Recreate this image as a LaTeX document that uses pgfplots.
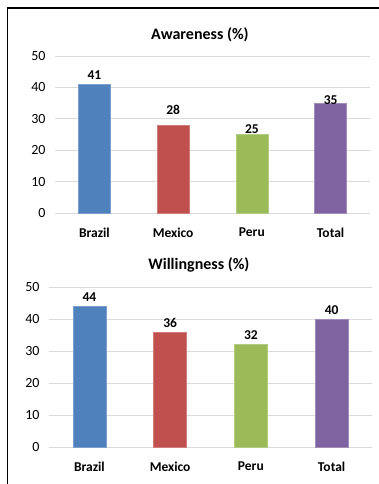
\documentclass[border=0pt]{standalone}
\usepackage{pgfplots}
\pgfplotsset{compat=1.18}
\usepackage{pgfplotstable}
\usepackage{fontspec}
\setmainfont{Carlito}
\definecolor{c0}{HTML}{4F81BD}
\definecolor{c1}{HTML}{C0504D}
\definecolor{c2}{HTML}{9BBB59}
\definecolor{c3}{HTML}{8064A2}
\definecolor{gridc}{HTML}{D9D9D9}

\pgfplotstableread{
x y dy c
0 41 0 0
1 28 6 1
2 25 -4 2
3 35 -6 3
}\awareness
\pgfplotstableread{
x y dy c
0 44 0 0
1 36 0 1
2 32 0 2
3 40 0 3
}\willing

\pgfplotsset{
  mychart/.style={
    scale only axis,
    anchor=south west,
    ymin=0, ymax=50,
    ytick={0,10,...,50},
    xmin=-0.5, xmax=3.5,
    xtick={0,1,2,3},
    xticklabels={Brazil,Mexico,Peru,Total},
    axis line style={draw=none},
    ymajorgrids,
    grid style={gridc, line width=0.8pt},
    major tick length=0pt,
    yticklabel style={font=\fontsize{14}{16}\selectfont, xshift=-6pt},
    xticklabel style={font=\fontsize{13.5}{16}\selectfont\bfseries, yshift=-11pt},
    /pgf/number format/assume math mode=true,
    title style={font=\fontsize{16}{18}\selectfont\bfseries, yshift=5pt},
    clip=false,
  },
}

\begin{document}
\begin{tikzpicture}
\path[use as bounding box] (0pt,0pt) rectangle (379pt,484pt);
\draw[line width=1.6pt, black] (7.5pt,0pt) -- (7.5pt,476pt) -- (379pt,476pt);

\begin{axis}[mychart, at={(55pt,271pt)}, width=315pt, height=157pt,
  title={Awareness (\%)}, title style={at={(0.46,1)}}]
\pgfplotsinvokeforeach{0,1,2,3}{
  \addplot[ybar, bar width=32pt, bar shift=0pt,
    fill=c#1, draw=c#1!75!white,
    nodes near coords, point meta=explicit symbolic,
    visualization depends on={\thisrow{dy} \as \dy},
    nodes near coords style={font=\fontsize{13.5}{16}\selectfont\bfseries, yshift=\dy+1, text=black},
    restrict expr to domain={\thisrow{c}}{#1:#1}]
    table[x=x, y=y, meta=y] {\awareness};
}
\end{axis}

\begin{axis}[mychart, at={(49pt,37pt)}, width=323pt, height=160pt,
  title={Willingness (\%)}, title style={at={(0.464,1)}}]
\pgfplotsinvokeforeach{0,1,2,3}{
  \addplot[ybar, bar width=33pt, bar shift=0pt,
    fill=c#1, draw=c#1!75!white,
    nodes near coords, point meta=explicit symbolic,
    visualization depends on={\thisrow{dy} \as \dy},
    nodes near coords style={font=\fontsize{13.5}{16}\selectfont\bfseries, yshift=\dy+1, text=black},
    restrict expr to domain={\thisrow{c}}{#1:#1}]
    table[x=x, y=y, meta=y] {\willing};
}
\end{axis}
\end{tikzpicture}
\end{document}
